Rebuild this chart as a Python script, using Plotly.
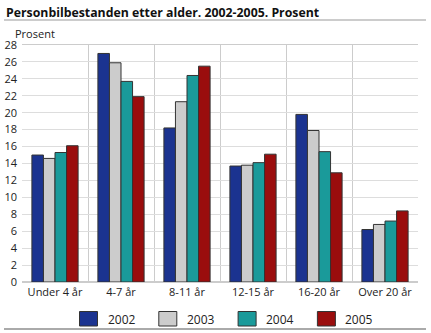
import plotly.graph_objects as go

categories = ["Under 4 år", "4-7 år", "8-11 år", "12-15 år", "16-20 år", "Over 20 år"]
years = ["2002", "2003", "2004", "2005"]
v2002 = [15.0, 27.0, 18.2, 13.7, 19.8, 6.2]
v2003 = [14.6, 25.9, 21.3, 13.8, 17.9, 6.8]
v2004 = [15.3, 23.7, 24.4, 14.1, 15.4, 7.2]
v2005 = [16.1, 21.9, 25.5, 15.1, 12.9, 8.4]
colors = ["#1b3390", "#cccccc", "#1a9a9a", "#9a0d0d"]
yticks = list(range(0, 29, 2))

fig = go.Figure()
for name, vals, col in zip(years, [v2002, v2003, v2004, v2005], colors):
    fig.add_trace(go.Bar(x=categories, y=vals, name=name, marker_color=col,
                         marker_line=dict(color="#333333", width=1),
                         showlegend=False))

W, H = 431, 333
ml, mr, mt, mb = 22, 13, 45, 51
PW, PH = W - ml - mr, H - mt - mb


def px(xp):
    return (xp - ml) / PW


def py(yp):
    return (H - mb - yp) / PH


annotations = [
    dict(text="<b>Personbilbestanden etter alder. 2002-2005. Prosent</b>",
         xref="paper", yref="paper", x=px(4), xanchor="left",
         y=py(2), yanchor="top", showarrow=False,
         font=dict(size=12.3, color="#111111")),
    dict(text="Prosent", xref="paper", yref="paper", x=px(13),
         xanchor="left", y=py(24), yanchor="top",
         showarrow=False, font=dict(size=11)),
]
shapes = [
    dict(type="line", xref="paper", yref="paper",
         x0=px(4), x1=px(426), y0=py(20), y1=py(20),
         line=dict(color="#bbbbbb", width=1.5)),
    dict(type="line", xref="paper", yref="paper",
         x0=px(4), x1=px(426), y0=py(329), y1=py(329),
         line=dict(color="#aaaaaa", width=2)),
]
# custom legend (larger swatches like the reference)
for i, (name, col) in enumerate(zip(years, colors)):
    x0 = 79.5 + i * 79.3
    shapes.append(dict(type="rect", xref="paper", yref="paper",
                       x0=px(x0), x1=px(x0 + 18), y0=py(311.5), y1=py(326),
                       fillcolor=col, line=dict(color="#333333", width=1)))
    annotations.append(dict(text=name, xref="paper", yref="paper",
                            x=px(x0 + 26), xanchor="left", y=py(319), yanchor="middle",
                            showarrow=False, font=dict(size=12)))

fig.update_layout(
    width=W, height=H,
    margin=dict(l=ml, r=mr, t=mt, b=mb, pad=0, autoexpand=False),
    paper_bgcolor="white", plot_bgcolor="white",
    font=dict(family="Open Sans, Noto Sans, sans-serif", size=11, color="#222222"),
    barmode="group", bargap=0.3, bargroupgap=0,
    showlegend=False,
    xaxis=dict(tickson="boundaries", showgrid=True, gridcolor="#cccccc", gridwidth=1,
               ticks="", showline=True, linecolor="#cccccc", mirror=True,
               tickfont=dict(size=11)),
    yaxis=dict(range=[0, 28], tickvals=yticks, showgrid=True, gridcolor="#dddddd",
               gridwidth=1, showline=False, zeroline=True, zerolinecolor="#cccccc",
               ticks="", ticklabelstandoff=4, tickfont=dict(size=11)),
    annotations=annotations,
    shapes=shapes,
)
fig.write_html("out.html")
